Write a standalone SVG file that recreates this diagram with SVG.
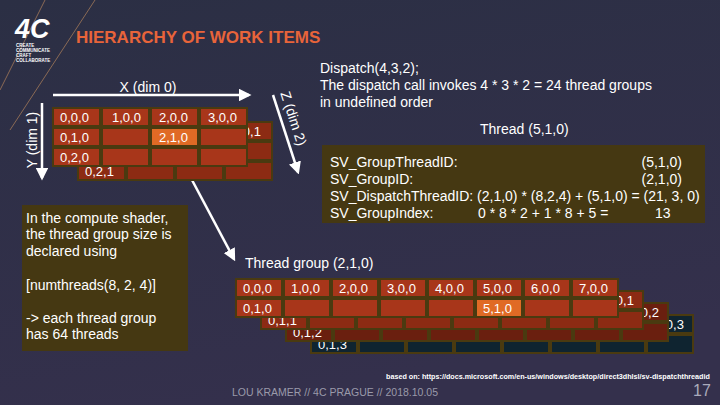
<svg xmlns="http://www.w3.org/2000/svg" width="720" height="405" viewBox="0 0 720 405">
<defs>
<linearGradient id="bg" x1="0" y1="0" x2="0.3" y2="1"><stop offset="0" stop-color="#2b2f44"/><stop offset="1" stop-color="#34304c"/></linearGradient>
<marker id="ah" viewBox="0 0 10 10" refX="8" refY="5" markerWidth="5" markerHeight="5" orient="auto"><path d="M0,0L10,5L0,10z" fill="#fff"/></marker>
<style>
text{font-family:"Liberation Sans",Arial,sans-serif;fill:#fff}
.c{font-size:13px}
.f{fill:#a8361a;stroke:#4a3a10;stroke-width:2}
.h{fill:#e06a25;stroke:#4a3a10;stroke-width:2}
.z1{fill:#8c2b13;stroke:#4a3a10;stroke-width:2}
.z2{fill:#6a1f0f;stroke:#4a3a10;stroke-width:2}
.z3{fill:#0f2430;stroke:#4a3a10;stroke-width:2}
.box{fill:#453812}
.t{font-size:14px}
.ln{stroke:#fff;stroke-width:2.5;fill:none;marker-end:url(#ah)}
</style>
</defs>
<rect width="720" height="405" fill="url(#bg)"/>
<line x1="0" y1="90" x2="45" y2="0" stroke="#8a6a55" stroke-width="1"/>
<line x1="10" y1="130" x2="95" y2="0" stroke="#8a6a55" stroke-width="1"/>
<g id="logo"><text x="15" y="38" style="font-size:27px;font-weight:bold;font-style:italic">4C</text>
<text x="16" y="47" style="font-size:4.5px;font-weight:bold">CREATE</text><text x="16" y="52" style="font-size:4.5px;font-weight:bold">COMMUNICATE</text><text x="16" y="57" style="font-size:4.5px;font-weight:bold">CRAFT</text><text x="16" y="62" style="font-size:4.5px;font-weight:bold">COLLABORATE</text></g>
<text x="76" y="43" style="font-size:17px;font-weight:bold;fill:#e8643a">HIERARCHY OF WORK ITEMS</text>

<g id="connectors">
<line class="ln" x1="53" y1="95" x2="249" y2="95"/>
<line class="ln" x1="42" y1="103" x2="42" y2="178"/>
<line class="ln" x1="273" y1="95" x2="298" y2="172"/>
<line class="ln" x1="175" y1="148" x2="234" y2="259"/>
</g>
<text x="148" y="92" class="t" text-anchor="middle">X (dim 0)</text>
<text transform="translate(37,140) rotate(-90)" class="t" text-anchor="middle">Y (dim 1)</text>
<text transform="translate(289,120) rotate(72)" class="t" text-anchor="middle">Z (dim 2)</text>

<g id="groupgrid">
<g transform="translate(25,14)">
<rect class="z1" x="53" y="108" width="47" height="18"/><rect class="z1" x="102" y="108" width="47" height="18"/><rect class="z1" x="151" y="108" width="47" height="18"/><rect class="z1" x="200" y="108" width="47" height="18"/>
<rect class="z1" x="53" y="128" width="47" height="18"/><rect class="z1" x="102" y="128" width="47" height="18"/><rect class="z1" x="151" y="128" width="47" height="18"/><rect class="z1" x="200" y="128" width="47" height="18"/>
<rect class="z1" x="53" y="148" width="47" height="18"/><rect class="z1" x="102" y="148" width="47" height="18"/><rect class="z1" x="151" y="148" width="47" height="18"/><rect class="z1" x="200" y="148" width="47" height="18"/>
<text x="207" y="122" class="c">3,0,1</text><text x="60" y="162" class="c">0,2,1</text>
</g>
<rect class="f" x="53" y="108" width="47" height="18"/><rect class="f" x="102" y="108" width="47" height="18"/><rect class="f" x="151" y="108" width="47" height="18"/><rect class="f" x="200" y="108" width="47" height="18"/>
<rect class="f" x="53" y="128" width="47" height="18"/><rect class="f" x="102" y="128" width="47" height="18"/><rect class="h" x="151" y="128" width="47" height="18"/><rect class="f" x="200" y="128" width="47" height="18"/>
<rect class="f" x="53" y="148" width="47" height="18"/><rect class="f" x="102" y="148" width="47" height="18"/><rect class="f" x="151" y="148" width="47" height="18"/><rect class="f" x="200" y="148" width="47" height="18"/>
<text x="60" y="122" class="c">0,0,0</text><text x="112" y="122" class="c">1,0,0</text><text x="159" y="122" class="c">2,0,0</text><text x="208" y="122" class="c">3,0,0</text>
<text x="60" y="142" class="c">0,1,0</text><text x="159" y="142" class="c">2,1,0</text><text x="60" y="162" class="c">0,2,0</text>
</g>

<text x="320" y="73" class="t">Dispatch(4,3,2);</text>
<text x="320" y="90" class="t">The dispatch call invokes 4 * 3 * 2 = 24 thread groups</text>
<text x="320" y="107" class="t">in undefined order</text>
<text x="480" y="134" class="t">Thread (5,1,0)</text>

<g id="info"><rect class="box" x="322" y="145" width="383" height="78"/>
<text x="330" y="167" class="t">SV_GroupThreadID:</text><text x="682" y="167" class="t" text-anchor="end">(5,1,0)</text>
<text x="330" y="184" class="t">SV_GroupID:</text><text x="682" y="184" class="t" text-anchor="end">(2,1,0)</text>
<text x="330" y="201" class="t">SV_DispatchThreadID: (2,1,0) * (8,2,4) + (5,1,0) = (21, 3, 0)</text>
<text x="330" y="218" class="t">SV_GroupIndex:</text><text x="478" y="218" class="t">0 * 8 * 2 + 1 * 8 + 5 =</text><text x="655" y="218" class="t">13</text>
</g>

<g id="shader"><rect class="box" x="22" y="205" width="166" height="146"/>
<text x="26" y="223" class="t">In the compute shader,</text>
<text x="26" y="239" class="t">the thread group size is</text>
<text x="26" y="256" class="t">declared using</text>
<text x="26" y="290" class="t">[numthreads(8, 2, 4)]</text>
<text x="26" y="323" class="t">-&gt; each thread group</text>
<text x="26" y="339" class="t">has 64 threads</text>
</g>

<text x="245" y="268" class="t">Thread group (2,1,0)</text>

<g id="threadgrid">
<g transform="translate(75,36)">
<rect class="z3" x="236" y="279" width="46" height="18"/><rect class="z3" x="284" y="279" width="46" height="18"/><rect class="z3" x="332" y="279" width="46" height="18"/><rect class="z3" x="380" y="279" width="46" height="18"/><rect class="z3" x="428" y="279" width="46" height="18"/><rect class="z3" x="476" y="279" width="46" height="18"/><rect class="z3" x="524" y="279" width="46" height="18"/><rect class="z3" x="572" y="279" width="46" height="18"/>
<rect class="z3" x="236" y="299" width="46" height="18"/><rect class="z3" x="284" y="299" width="46" height="18"/><rect class="z3" x="332" y="299" width="46" height="18"/><rect class="z3" x="380" y="299" width="46" height="18"/><rect class="z3" x="428" y="299" width="46" height="18"/><rect class="z3" x="476" y="299" width="46" height="18"/><rect class="z3" x="524" y="299" width="46" height="18"/><rect class="z3" x="572" y="299" width="46" height="18"/>
<text x="580" y="293" class="c">7,0,3</text><text x="243" y="313" class="c">0,1,3</text></g>
<g transform="translate(50,24)">
<rect class="z2" x="236" y="279" width="46" height="18"/><rect class="z2" x="284" y="279" width="46" height="18"/><rect class="z2" x="332" y="279" width="46" height="18"/><rect class="z2" x="380" y="279" width="46" height="18"/><rect class="z2" x="428" y="279" width="46" height="18"/><rect class="z2" x="476" y="279" width="46" height="18"/><rect class="z2" x="524" y="279" width="46" height="18"/><rect class="z2" x="572" y="279" width="46" height="18"/>
<rect class="z2" x="236" y="299" width="46" height="18"/><rect class="z2" x="284" y="299" width="46" height="18"/><rect class="z2" x="332" y="299" width="46" height="18"/><rect class="z2" x="380" y="299" width="46" height="18"/><rect class="z2" x="428" y="299" width="46" height="18"/><rect class="z2" x="476" y="299" width="46" height="18"/><rect class="z2" x="524" y="299" width="46" height="18"/><rect class="z2" x="572" y="299" width="46" height="18"/>
<text x="580" y="293" class="c">7,0,2</text><text x="243" y="313" class="c">0,1,2</text></g>
<g transform="translate(25,12)">
<rect class="z1" x="236" y="279" width="46" height="18"/><rect class="z1" x="284" y="279" width="46" height="18"/><rect class="z1" x="332" y="279" width="46" height="18"/><rect class="z1" x="380" y="279" width="46" height="18"/><rect class="z1" x="428" y="279" width="46" height="18"/><rect class="z1" x="476" y="279" width="46" height="18"/><rect class="z1" x="524" y="279" width="46" height="18"/><rect class="z1" x="572" y="279" width="46" height="18"/>
<rect class="z1" x="236" y="299" width="46" height="18"/><rect class="z1" x="284" y="299" width="46" height="18"/><rect class="z1" x="332" y="299" width="46" height="18"/><rect class="z1" x="380" y="299" width="46" height="18"/><rect class="z1" x="428" y="299" width="46" height="18"/><rect class="z1" x="476" y="299" width="46" height="18"/><rect class="z1" x="524" y="299" width="46" height="18"/><rect class="z1" x="572" y="299" width="46" height="18"/>
<text x="580" y="293" class="c">7,0,1</text><text x="243" y="313" class="c">0,1,1</text></g>
<rect class="f" x="236" y="279" width="46" height="18"/><rect class="f" x="284" y="279" width="46" height="18"/><rect class="f" x="332" y="279" width="46" height="18"/><rect class="f" x="380" y="279" width="46" height="18"/><rect class="f" x="428" y="279" width="46" height="18"/><rect class="f" x="476" y="279" width="46" height="18"/><rect class="f" x="524" y="279" width="46" height="18"/><rect class="f" x="572" y="279" width="46" height="18"/>
<rect class="f" x="236" y="299" width="46" height="18"/><rect class="f" x="284" y="299" width="46" height="18"/><rect class="f" x="332" y="299" width="46" height="18"/><rect class="f" x="380" y="299" width="46" height="18"/><rect class="f" x="428" y="299" width="46" height="18"/><rect class="h" x="476" y="299" width="46" height="18"/><rect class="f" x="524" y="299" width="46" height="18"/><rect class="f" x="572" y="299" width="46" height="18"/>
<text x="243" y="293" class="c">0,0,0</text><text x="291" y="293" class="c">1,0,0</text><text x="339" y="293" class="c">2,0,0</text><text x="387" y="293" class="c">3,0,0</text><text x="435" y="293" class="c">4,0,0</text><text x="483" y="293" class="c">5,0,0</text><text x="531" y="293" class="c">6,0,0</text><text x="579" y="293" class="c">7,0,0</text>
<text x="243" y="313" class="c">0,1,0</text><text x="483" y="313" class="c">5,1,0</text>
</g>

<text x="386" y="379" style="font-size:7.2px;font-weight:bold">based on: https://docs.microsoft.com/en-us/windows/desktop/direct3dhlsl/sv-dispatchthreadid</text>
<text x="232" y="396" style="font-size:10.5px;fill:#9a9aaa">LOU KRAMER // 4C PRAGUE // 2018.10.05</text>
<text x="693" y="396" style="font-size:16px;fill:#aaaabb">17</text>
</svg>
